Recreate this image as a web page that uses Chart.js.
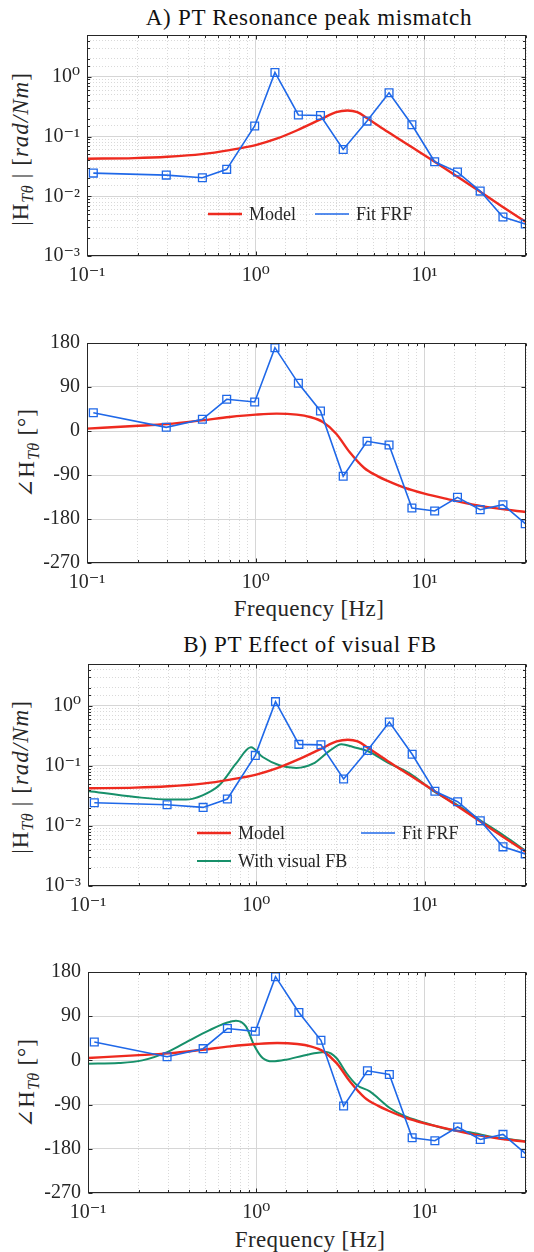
<!DOCTYPE html>
<html>
<head>
<meta charset="utf-8">
<script src="https://cdn.jsdelivr.net/npm/chart.js@4.4.1/dist/chart.umd.min.js"></script>
<style>
body { margin: 0; background: #fff; }
#page { position: relative; width: 534px; height: 1252px; overflow: hidden; background: #fff;
  font-family: "Liberation Serif", "DejaVu Serif", serif; color: #262626; }
canvas { position: absolute; left: 0; }
.lbl { position: absolute; white-space: nowrap; line-height: 1; transform: translate(-50%, -50%); }
.title { font-size: 23px; letter-spacing: 0.7px; color: #111; }
.xlab { font-size: 23px; letter-spacing: 0.4px; }
.ylab { font-size: 23px; letter-spacing: 1px; transform: translate(-50%, -50%) rotate(-90deg); }
.ylab sub { font-size: 16px; font-style: italic; vertical-align: -5px; letter-spacing: 0.5px; }
</style>
</head>
<body>
<div id="page">
  <div class="lbl title" style="left:309px; top:17px">A) PT Resonance peak mismatch</div>
  <div class="lbl ylab" style="left:22px; top:149px">|H<sub>Tθ</sub> | [<i>rad/Nm</i>]</div>
  <div class="lbl ylab" style="left:28px; top:453px">∠H<sub>Tθ</sub> [°]</div>
  <div class="lbl xlab" style="left:309px; top:608px">Frequency [Hz]</div>

  <div class="lbl title" style="left:310px; top:644px">B) PT Effect of visual FB</div>
  <div class="lbl ylab" style="left:22px; top:777px">|H<sub>Tθ</sub> | [<i>rad/Nm</i>]</div>
  <div class="lbl ylab" style="left:28px; top:1083px">∠H<sub>Tθ</sub> [°]</div>
  <div class="lbl xlab" style="left:310px; top:1239px">Frequency [Hz]</div>
</div>
<script>
// measured FRF points (blue squares)
const freqFit  = [0.109, 0.295, 0.483, 0.673, 0.986, 1.30, 1.79, 2.42, 3.30, 4.57, 6.17, 8.43, 11.5, 15.7, 21.4, 29.2, 39.6];
const magFit   = [0.0244, 0.0226, 0.0204, 0.0282, 0.150, 1.18, 0.229, 0.225, 0.0608, 0.181, 0.540, 0.157, 0.0378, 0.0254, 0.0122, 0.00449, 0.00343];
const phaseFit = [37.5, 7.5, 23.9, 64.8, 59.3, 170.5, 97.5, 40.9, -92.7, -21.1, -28.6, -157.5, -163.6, -135.7, -160.9, -150.7, -189.5];

// model curve
const freqModelMag = [0.1, 0.19, 0.30, 0.48, 0.70, 1.0, 1.33, 1.75, 2.42, 3.0, 3.5, 4.0, 4.6, 6.05, 8.4, 11.5, 15.3, 21.1, 29, 40];
const magModel     = [0.0425, 0.0435, 0.0458, 0.0508, 0.0593, 0.0719, 0.0918, 0.126, 0.193, 0.256, 0.273, 0.256, 0.201, 0.120, 0.0666, 0.0378, 0.0223, 0.0122, 0.00668, 0.0037];
const freqModelPh  = [0.1, 0.19, 0.30, 0.48, 0.70, 1.0, 1.33, 1.75, 2.1, 2.5, 3.0, 3.6, 4.4, 5.3, 6.05, 7.6, 10, 13.9, 19.1, 27.6, 40];
const phaseModel   = [4.8, 10.2, 14.3, 21.8, 28.6, 33.4, 35.5, 33.4, 28.6, 18.4, -5.5, -43, -75.7, -92.7, -102, -115.9, -128.2, -139.8, -150, -158.9, -165.7];

// model with visual feedback
const freqVisMag = [0.1, 0.191, 0.303, 0.381, 0.479, 0.602, 0.757, 0.929, 1.09, 1.37, 1.73, 2.17, 2.72, 3.20, 3.76, 4.72, 5.93, 8.18, 11.5, 15.5, 21.4, 29.4, 40];
const magVis     = [0.0383, 0.0304, 0.0275, 0.0275, 0.0324, 0.0476, 0.109, 0.205, 0.141, 0.103, 0.0926, 0.109, 0.178, 0.230, 0.207, 0.171, 0.117, 0.0745, 0.0369, 0.0227, 0.0124, 0.00699, 0.00383];
const freqVisPh  = [0.1, 0.152, 0.210, 0.303, 0.398, 0.524, 0.660, 0.757, 0.867, 0.973, 1.09, 1.25, 1.50, 1.89, 2.27, 2.60, 2.99, 3.43, 3.93, 4.72, 5.42, 6.21, 7.46, 9.82, 13.5, 18.6, 25.6, 40];
const phaseVis   = [-6.7, -5.3, 0.1, 18.5, 40.2, 61.2, 76.2, 80.9, 69.4, 30, 4.9, -1.9, 1.5, 9.6, 15.1, 17.1, 4.9, -25.7, -49.4, -63, -80, -96.9, -111.9, -126.1, -139.7, -146.5, -156, -164.8];

// tick labels
const freqTicks  = [0.1, 1, 10];
const magTicks   = [0.001, 0.01, 0.1, 1];
const phaseTicks = [-270, -180, -90, 0, 90, 180];

const RED = '#ee2a1f', BLUE = '#1f68e8', GREEN = '#17906a', INK = '#262626';
const FONT = '"Liberation Serif", "DejaVu Serif", serif';

const isDecade = v => Math.abs(Math.log10(v) - Math.round(Math.log10(v))) < 1e-6;
const inList = (list, v) => list.some(t => Math.abs(t - v) / Math.abs(t || 1) < 1e-6);
const SUP = { '-': '⁻', '0': '⁰', '1': '¹', '2': '²', '3': '³' };
const powLabel = v => '10' + String(Math.round(Math.log10(v))).split('').map(c => SUP[c]).join('');
const pts = (xs, ys) => xs.map((x, i) => ({ x: x, y: ys[i] }));

// box + inward ticks (matlab look) and a small legend inside the axes
const matlabAxes = {
  id: 'matlabAxes',
  afterDraw(chart, args, opts) {
    const { ctx, chartArea: a, scales } = chart;
    const L = Math.round(a.left) + 0.5, R = Math.round(a.right) - 0.5;
    const T = Math.round(a.top) + 0.5, B = Math.round(a.bottom) - 0.5;
    ctx.save();
    ctx.strokeStyle = INK;
    ctx.lineWidth = 1;
    ctx.beginPath();
    scales.x.ticks.forEach(t => {
      const px = Math.round(scales.x.getPixelForValue(t.value)) + 0.5;
      const len = isDecade(t.value) ? 4 : 2.5;
      ctx.moveTo(px, B); ctx.lineTo(px, B - len);
      ctx.moveTo(px, T); ctx.lineTo(px, T + len);
    });
    const ylog = scales.y.type === 'logarithmic';
    scales.y.ticks.forEach(t => {
      const py = Math.round(scales.y.getPixelForValue(t.value)) + 0.5;
      const len = (!ylog || isDecade(t.value)) ? 4 : 2.5;
      ctx.moveTo(L, py); ctx.lineTo(L + len, py);
      ctx.moveTo(R, py); ctx.lineTo(R - len, py);
    });
    ctx.stroke();
    ctx.strokeRect(L, T, R - L, B - T);

    ctx.font = '18px ' + FONT;
    ctx.textBaseline = 'middle';
    (opts.items || []).forEach(it => {
      const ds = chart.data.datasets[it.ds];
      const y = it.y - opts.offsetTop;
      ctx.strokeStyle = ds.borderColor;
      ctx.lineWidth = ds.borderWidth;
      ctx.beginPath(); ctx.moveTo(it.x, y); ctx.lineTo(it.x + 34, y); ctx.stroke();
      ctx.fillStyle = INK;
      ctx.fillText(ds.label, it.x + 41, y + 1);
    });
    ctx.restore();
  }
};

const page = document.getElementById('page');

const gridColor = c => (c.tick && isDecade(c.tick.value)) ? '#d6d6d6' : '#d9d9d9';
const gridDash = c => (c.tick && !isDecade(c.tick.value)) ? [1, 2] : [];

function makeChart(p, datasets, yKind, legendItems) {
  const cv = document.createElement('canvas');
  const top = p.top - 20;
  cv.width = 534;
  cv.height = p.bottom - p.top + 60;
  cv.style.top = top + 'px';
  page.appendChild(cv);

  const tickFont = { family: FONT, size: 20 };
  let yScale;
  if (yKind === 'mag') {
    yScale = {
      type: 'logarithmic', min: 0.001, max: 5,
      afterFit: s => { s.width = p.left; },
      border: { display: false, dash: gridDash },
      grid: { drawTicks: false, color: gridColor },
      ticks: { autoSkip: false, padding: 7, color: INK, font: tickFont,
        callback: v => inList(magTicks, v) ? powLabel(v) : '' }
    };
  } else {
    yScale = {
      type: 'linear', min: -270, max: 180,
      afterFit: s => { s.width = p.left; },
      afterBuildTicks: s => { s.ticks = phaseTicks.map(v => ({ value: v })); },
      border: { display: false },
      grid: { drawTicks: false, color: '#d6d6d6' },
      ticks: { autoSkip: false, padding: 7, color: INK, font: tickFont, callback: v => String(v) }
    };
  }

  return new Chart(cv, {
    type: 'line',
    data: { datasets: datasets },
    options: {
      responsive: false,
      animation: false,
      devicePixelRatio: 1,
      layout: { padding: { top: 20, right: 534 - p.right, left: 0, bottom: 0 } },
      plugins: {
        legend: { display: false },
        tooltip: { enabled: false },
        matlabAxes: { items: legendItems, offsetTop: top }
      },
      scales: {
        x: {
          type: 'logarithmic', min: 0.1, max: 40,
          afterFit: s => { s.height = 40; },
          border: { display: false, dash: gridDash },
          grid: { drawTicks: false, color: gridColor },
          ticks: { autoSkip: false, maxRotation: 0, padding: 8, color: INK, font: tickFont,
            callback: v => inList(freqTicks, v) ? powLabel(v) : '' }
        },
        y: yScale
      }
    },
    plugins: [matlabAxes]
  });
}

const modelSet = (xs, ys) => ({ label: 'Model', data: pts(xs, ys), borderColor: RED, borderWidth: 2.4,
  pointRadius: 0, cubicInterpolationMode: 'monotone', order: 1 });
const fitSet = ys => ({ label: 'Fit FRF', data: pts(freqFit, ys), borderColor: BLUE, borderWidth: 1.6,
  pointStyle: 'rect', pointRadius: 5.5, pointBorderWidth: 1.3, pointBorderColor: BLUE,
  pointBackgroundColor: 'rgba(0,0,0,0)', tension: 0, order: 0 });
const visSet = (xs, ys) => ({ label: 'With visual FB', data: pts(xs, ys), borderColor: GREEN, borderWidth: 2,
  pointRadius: 0, cubicInterpolationMode: 'monotone', order: 2 });

// A) resonance peak mismatch
makeChart({ top: 35, bottom: 256, left: 87, right: 531 },
  [modelSet(freqModelMag, magModel), fitSet(magFit)], 'mag',
  [{ ds: 0, x: 208, y: 214 }, { ds: 1, x: 315, y: 214 }]);
makeChart({ top: 343, bottom: 563, left: 87, right: 531 },
  [modelSet(freqModelPh, phaseModel), fitSet(phaseFit)], 'phase', []);

// B) effect of visual feedback
makeChart({ top: 664, bottom: 886, left: 88, right: 533 },
  [modelSet(freqModelMag, magModel), fitSet(magFit), visSet(freqVisMag, magVis)], 'mag',
  [{ ds: 0, x: 197, y: 833 }, { ds: 1, x: 361, y: 833 }, { ds: 2, x: 197, y: 861 }]);
makeChart({ top: 972, bottom: 1193, left: 88, right: 533 },
  [modelSet(freqModelPh, phaseModel), fitSet(phaseFit), visSet(freqVisPh, phaseVis)], 'phase', []);
</script>
</body>
</html>
